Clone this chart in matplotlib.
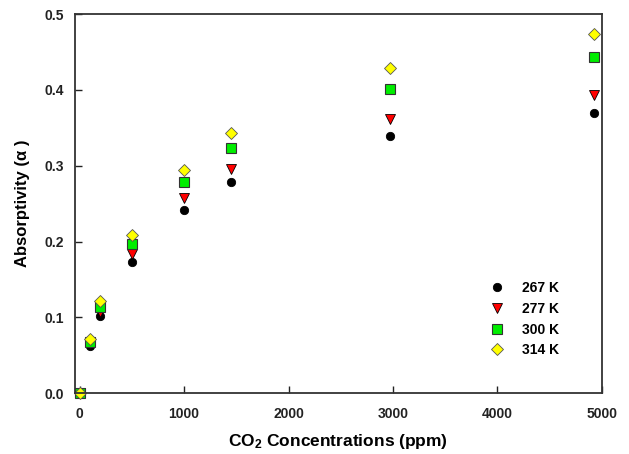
import matplotlib
matplotlib.use("Agg")
import matplotlib.pyplot as plt

plt.rcParams['font.family'] = ['Liberation Sans', 'DejaVu Sans']
plt.rcParams['font.weight'] = 'bold'
plt.rcParams['mathtext.fontset'] = 'custom'
plt.rcParams['mathtext.rm'] = 'Liberation Sans:bold'
plt.rcParams['mathtext.it'] = 'Liberation Sans:bold'
plt.rcParams['mathtext.bf'] = 'Liberation Sans:bold'

# CO2 concentration (ppm)
conc = [0, 100, 200, 500, 1000, 1450, 2970, 4920]

# absorptivity at each temperature
a_267 = [0.0, 0.062, 0.102, 0.173, 0.242, 0.279, 0.339, 0.370]
a_277 = [0.0, 0.065, 0.107, 0.184, 0.257, 0.296, 0.362, 0.393]
a_300 = [0.0, 0.068, 0.113, 0.197, 0.278, 0.323, 0.401, 0.443]
a_314 = [0.0, 0.071, 0.122, 0.208, 0.294, 0.343, 0.429, 0.474]

labels = ['267 K', '277 K', '300 K', '314 K']

fig = plt.figure(figsize=(6.29, 4.54), dpi=100)
ax = fig.add_axes([0.119, 0.134, 0.838, 0.835])

ax.plot(conc, a_267, 'o', ms=6, mfc='black', mec='black', mew=0.6, label=labels[0], clip_on=False)
ax.plot(conc, a_277, 'v', ms=6.5, mfc='#ff0000', mec='black', mew=0.6, label=labels[1], clip_on=False)
ax.plot(conc, a_300, 's', ms=6.5, mfc='#00ee00', mec='#333333', mew=0.8, label=labels[2], clip_on=False)
ax.plot(conc, a_314, 'D', ms=6.5, mfc='#ffff00', mec='#555555', mew=0.6, label=labels[3], clip_on=False)

ax.set_xlim(-45, 5000)
ax.set_ylim(0, 0.5)
ax.set_xticks([0, 1000, 2000, 3000, 4000, 5000])
ax.set_yticks([0.0, 0.1, 0.2, 0.3, 0.4, 0.5])
ax.set_yticklabels(['0.0', '0.1', '0.2', '0.3', '0.4', '0.5'])

ax.tick_params(direction='in', length=5, width=1, labelsize=10, colors='#222222')
ax.tick_params(axis='y', pad=8)
ax.tick_params(axis='x', pad=10)
for s in ax.spines.values():
    s.set_linewidth(1.3)
    s.set_color('#333333')

ax.set_xlabel(r'CO$_2$ Concentrations (ppm)', fontsize=12.5, fontweight='bold', labelpad=8)
ax.set_ylabel('Absorptivity (α )', fontsize=12, fontweight='bold', labelpad=10)

ax.legend(loc='lower right', bbox_to_anchor=(0.93, 0.08), frameon=False, fontsize=10,
          handletextpad=1.3, labelspacing=0.48, handlelength=1.0, borderaxespad=0)

fig.savefig('out.png', dpi=100)
